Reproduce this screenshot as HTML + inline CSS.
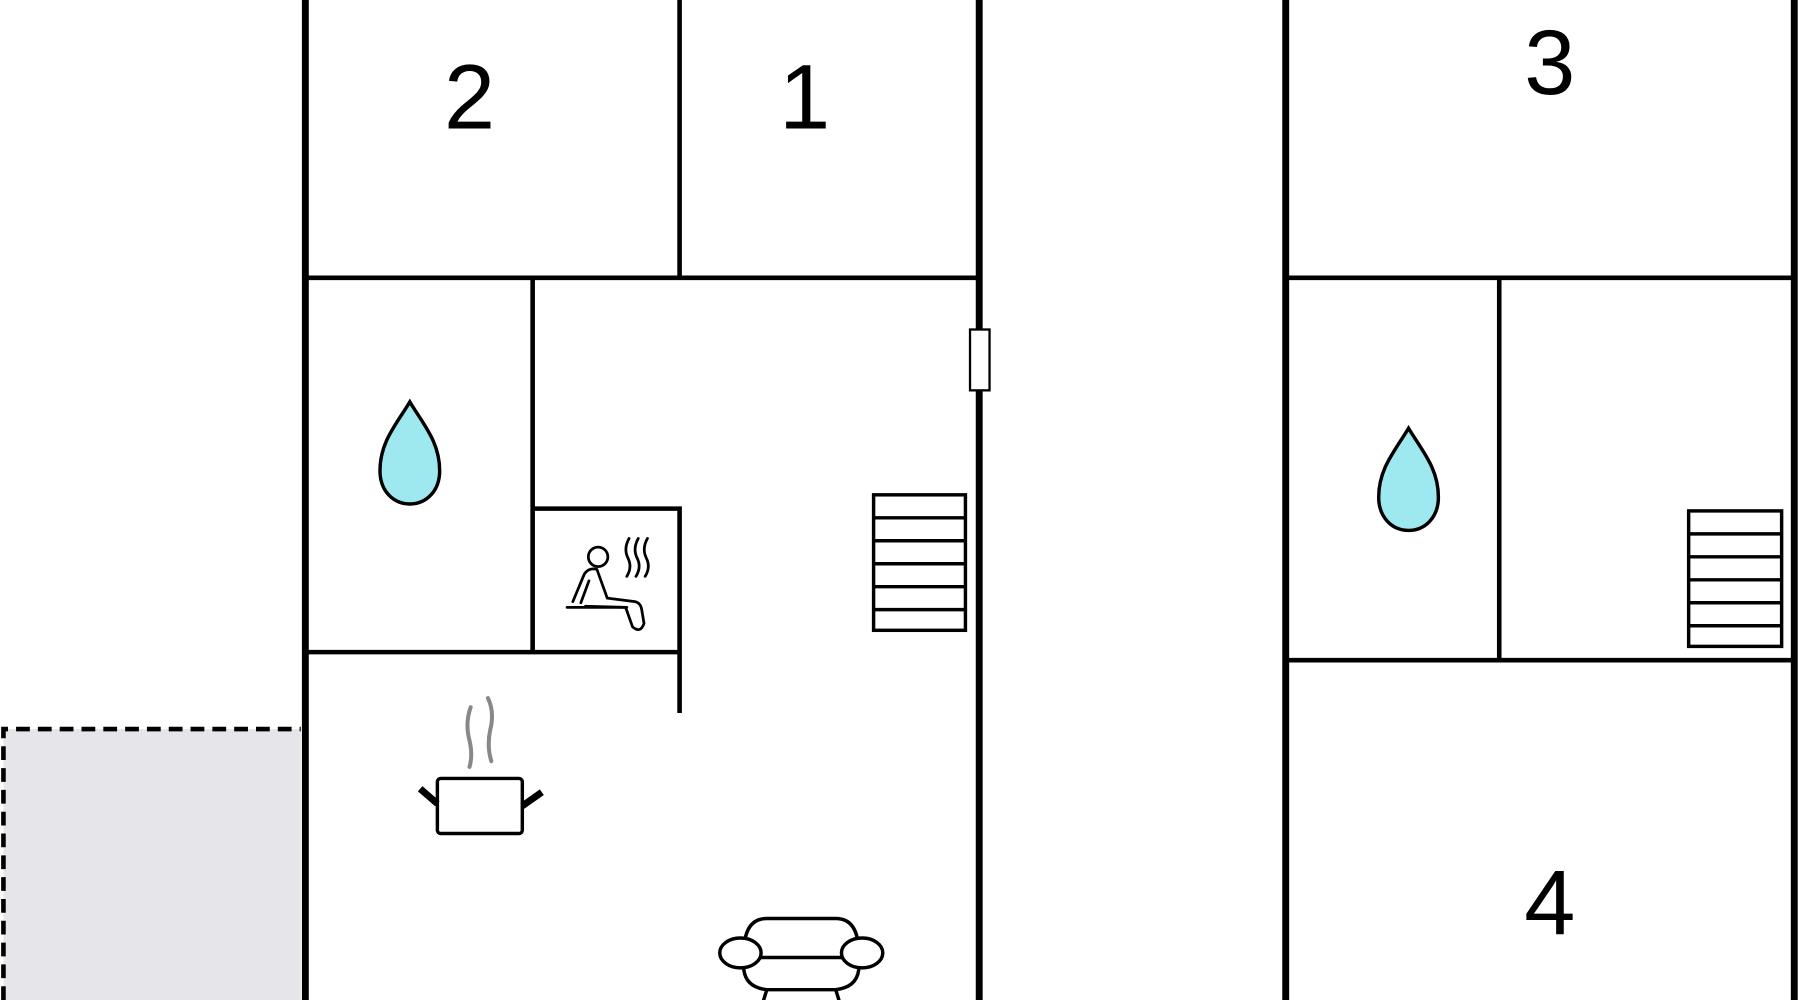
<!DOCTYPE html>
<html><head><meta charset="utf-8"><style>
html,body{margin:0;padding:0;background:#fff;width:1800px;height:1000px;overflow:hidden}
svg{display:block}
text{font-family:"Liberation Sans",sans-serif;fill:#000}
</style></head><body>
<svg width="1800" height="1000" viewBox="0 0 1568 871" preserveAspectRatio="none">
<rect width="1568" height="871" fill="#fff"/>
<rect x="3" y="635" width="259" height="240" fill="#e6e6ea"/>
<path d="M3 871 V635 H262" fill="none" stroke="#000" stroke-width="4" stroke-dasharray="12 7"/>
<g stroke="#000" fill="none">
<line x1="266" y1="0" x2="266" y2="871" stroke-width="6"/>
<line x1="853" y1="0" x2="853" y2="871" stroke-width="6"/>
<line x1="1120" y1="0" x2="1120" y2="871" stroke-width="6"/>
<line x1="1563" y1="0" x2="1563" y2="871" stroke-width="6"/>
<line x1="266" y1="242" x2="853" y2="242" stroke-width="4"/>
<line x1="592" y1="0" x2="592" y2="242" stroke-width="4"/>
<line x1="464" y1="242" x2="464" y2="568" stroke-width="4"/>
<line x1="266" y1="568" x2="592" y2="568" stroke-width="4"/>
<path d="M464 443 H592 V621" stroke-width="4"/>
<line x1="1120" y1="242" x2="1563" y2="242" stroke-width="4"/>
<line x1="1306" y1="242" x2="1306" y2="575" stroke-width="4"/>
<line x1="1120" y1="575" x2="1563" y2="575" stroke-width="4"/>
</g>
<rect x="845" y="287" width="17" height="53" fill="#fff" stroke="#000" stroke-width="2"/>
<g stroke="#000" stroke-width="3" fill="#fff">
<rect x="761" y="431" width="80" height="118"/>
<line x1="761" y1="451" x2="841" y2="451"/><line x1="761" y1="471" x2="841" y2="471"/>
<line x1="761" y1="491" x2="841" y2="491"/><line x1="761" y1="511" x2="841" y2="511"/>
<line x1="761" y1="531" x2="841" y2="531"/>
<rect x="1471" y="445" width="81" height="118"/>
<line x1="1471" y1="465" x2="1552" y2="465"/><line x1="1471" y1="485" x2="1552" y2="485"/>
<line x1="1471" y1="505" x2="1552" y2="505"/><line x1="1471" y1="525" x2="1552" y2="525"/>
<line x1="1471" y1="545" x2="1552" y2="545"/>
</g>
<path d="M357 350 C345 370 331 385 331 410 C331 428 343 439 357 439 C371 439 383 428 383 410 C383 385 369 370 357 350 Z" fill="#9ee9ef" stroke="#000" stroke-width="3"/>
<path d="M1227 373 C1215 393 1201 408 1201 433 C1201 451 1213 462 1227 462 C1241 462 1253 451 1253 433 C1253 408 1239 393 1227 373 Z" fill="#9ee9ef" stroke="#000" stroke-width="3"/>
<g fill="none" stroke="#000" stroke-width="2.4" stroke-linecap="round">
<circle cx="521" cy="485" r="8.5"/>
<path d="M499 524 L509 500 Q513 494 520 496 L529 521 L553 524 Q558 525 559 531 L561 543 Q558 552 551 546 L545 529 L510 528"/>
<path d="M513 506 L506 525"/>
<line x1="494" y1="529" x2="546" y2="529"/>
<path d="M548 469 Q543 478 547 486 Q551 494 546 502"/>
<path d="M556 469 Q551 478 555 486 Q559 494 554 502"/>
<path d="M564 469 Q559 478 563 486 Q567 494 562 502"/>
</g>
<g stroke="#888" stroke-width="3.5" fill="none" stroke-linecap="round">
<path d="M410 616 Q405 630 409 645 Q412 658 409 668"/>
<path d="M425 608 Q431 620 427 636 Q424 650 428 663"/>
</g>
<rect x="381" y="678" width="74" height="48" rx="3" fill="#fff" stroke="#000" stroke-width="3"/>
<path d="M381 700 L366 687" stroke="#000" stroke-width="6"/>
<path d="M455 702 L472 690" stroke="#000" stroke-width="6"/>
<g stroke="#000" stroke-width="3" fill="#fff">
<path d="M648 830 Q648 800 668 800 H728 Q748 800 748 830"/>
<path d="M648 832 V845 Q650 860 668 862 H728 Q746 860 748 845 V832"/>
<line x1="653" y1="834" x2="743" y2="834"/>
<ellipse cx="645" cy="830" rx="18" ry="13"/>
<ellipse cx="751" cy="830" rx="18" ry="13"/>
<line x1="668" y1="862" x2="664" y2="875"/><line x1="728" y1="862" x2="732" y2="875"/>
</g>
<text x="409" y="112" font-size="80" text-anchor="middle">2</text>
<text x="701" y="112" font-size="80" text-anchor="middle">1</text>
<text x="1350" y="82" font-size="80" text-anchor="middle">3</text>
<text x="1350" y="814" font-size="80" text-anchor="middle">4</text>
</svg>
</body></html>
